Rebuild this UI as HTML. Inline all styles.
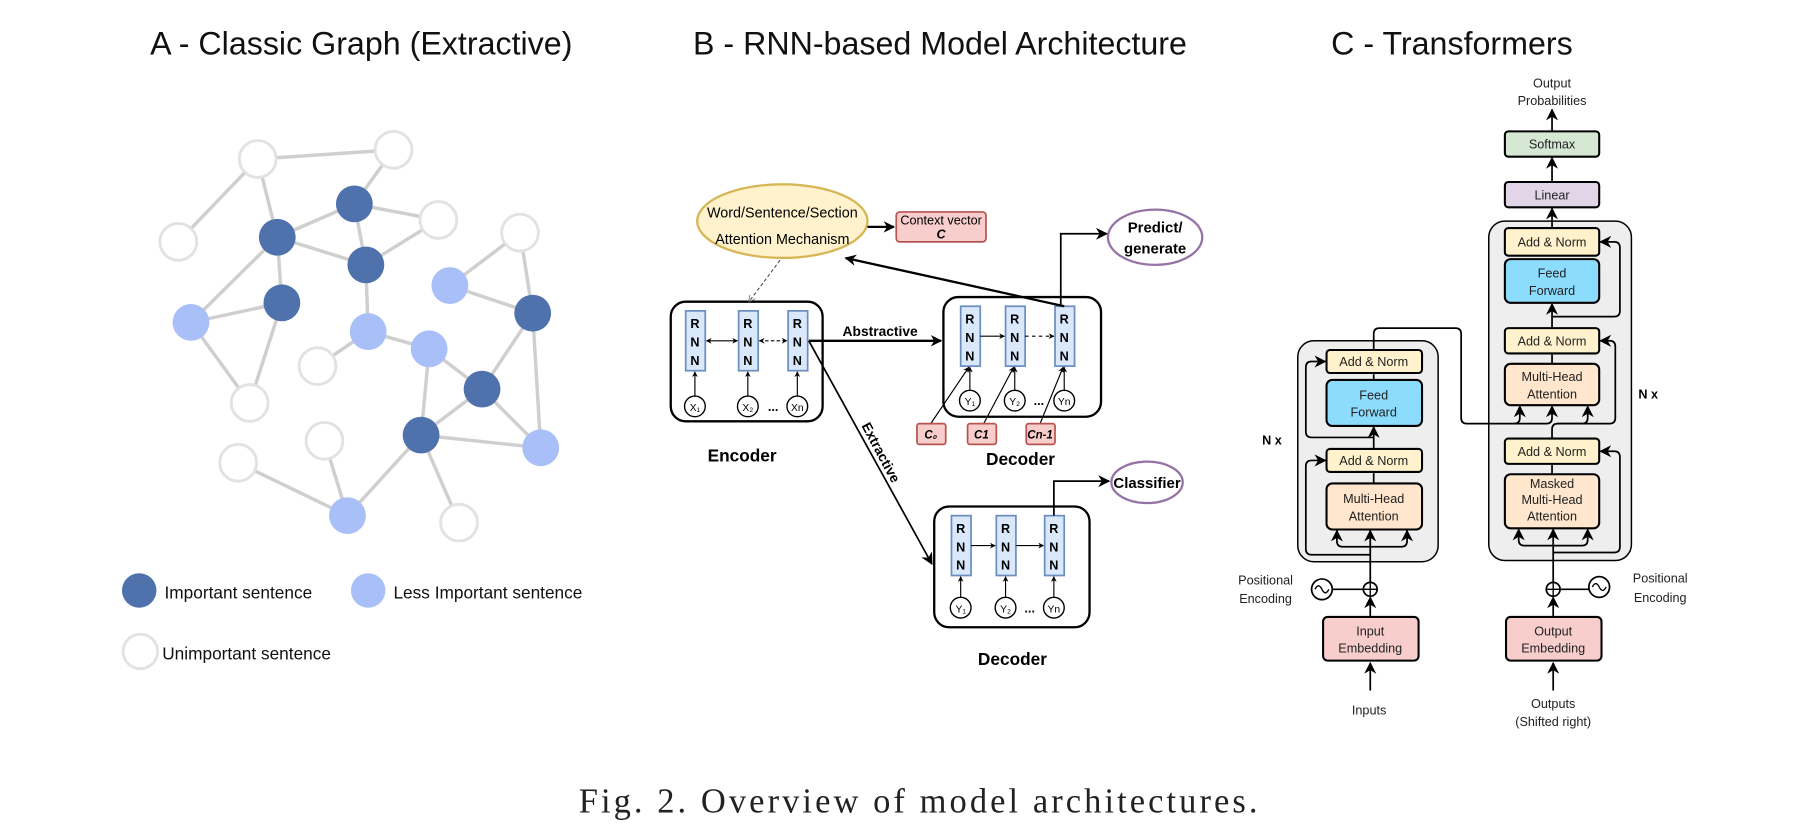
<!DOCTYPE html>
<html><head><meta charset="utf-8"><style>
html,body{margin:0;padding:0;background:#fff}
svg{display:block}
text{font-family:"Liberation Sans",sans-serif}
text.serif{font-family:"Liberation Serif",serif}
</style></head><body>
<svg width="1804" height="830" viewBox="0 0 1568 721" xmlns="http://www.w3.org/2000/svg">
<defs>
<marker id="ar" viewBox="0 0 10 10" refX="9" refY="5" markerWidth="7" markerHeight="7" orient="auto-start-reverse"><path d="M0,0 L10,5 L0,10 L3,5 z" fill="#000"/></marker>
<marker id="as" viewBox="0 0 10 10" refX="9" refY="5" markerWidth="5" markerHeight="5" orient="auto-start-reverse"><path d="M0,0 L10,5 L0,10 L3,5 z" fill="#000"/></marker>
<marker id="ad" viewBox="0 0 10 10" refX="9" refY="5" markerWidth="6" markerHeight="6" orient="auto"><path d="M0,0 L10,5 L0,10" fill="none" stroke="#555"/></marker>
</defs>
<g font-size="28" text-anchor="middle" fill="#111">
<text x="314" y="47">A - Classic Graph (Extractive)</text>
<text x="817" y="47">B - RNN-based Model Architecture</text>
<text x="1262" y="47">C - Transformers</text>
</g>
<g stroke="#cfcfcf" stroke-width="3">
<line x1="224" y1="138" x2="342" y2="130"/><line x1="224" y1="138" x2="241" y2="206"/><line x1="224" y1="138" x2="155" y2="210"/>
<line x1="342" y1="130" x2="308" y2="177"/><line x1="308" y1="177" x2="241" y2="206"/><line x1="308" y1="177" x2="381" y2="191"/>
<line x1="308" y1="177" x2="318" y2="230"/><line x1="241" y1="206" x2="318" y2="230"/><line x1="381" y1="191" x2="318" y2="230"/>
<line x1="241" y1="206" x2="166" y2="280"/><line x1="241" y1="206" x2="245" y2="263"/><line x1="245" y1="263" x2="166" y2="280"/>
<line x1="245" y1="263" x2="217" y2="350"/><line x1="166" y1="280" x2="217" y2="350"/><line x1="318" y1="230" x2="320" y2="288"/>
<line x1="320" y1="288" x2="373" y2="303"/><line x1="320" y1="288" x2="276" y2="318"/><line x1="391" y1="248" x2="463" y2="272"/>
<line x1="452" y1="202" x2="391" y2="248"/><line x1="452" y1="202" x2="463" y2="272"/><line x1="463" y1="272" x2="419" y2="338"/>
<line x1="463" y1="272" x2="470" y2="389"/><line x1="419" y1="338" x2="373" y2="303"/><line x1="419" y1="338" x2="366" y2="378"/>
<line x1="366" y1="378" x2="470" y2="389"/><line x1="373" y1="303" x2="366" y2="378"/><line x1="366" y1="378" x2="302" y2="448"/>
<line x1="366" y1="378" x2="399" y2="454"/><line x1="282" y1="383" x2="302" y2="448"/><line x1="207" y1="402" x2="302" y2="448"/>
<line x1="419" y1="338" x2="470" y2="389"/>
</g>
<g stroke="#e2e2e2" stroke-width="2.5" fill="#fff">
<circle cx="224" cy="138" r="16"/><circle cx="342" cy="130" r="16"/><circle cx="155" cy="210" r="16"/><circle cx="381" cy="191" r="16"/>
<circle cx="452" cy="202" r="16"/><circle cx="217" cy="350" r="16"/><circle cx="276" cy="318" r="16"/><circle cx="282" cy="383" r="16"/>
<circle cx="207" cy="402" r="16"/><circle cx="399" cy="454" r="16"/>
</g>
<g fill="#4f72ad">
<circle cx="308" cy="177" r="16"/><circle cx="241" cy="206" r="16"/><circle cx="318" cy="230" r="16"/><circle cx="245" cy="263" r="16"/>
<circle cx="463" cy="272" r="16"/><circle cx="419" cy="338" r="16"/><circle cx="366" cy="378" r="16"/>
</g>
<g fill="#a9bff7">
<circle cx="166" cy="280" r="16"/><circle cx="320" cy="288" r="16"/><circle cx="373" cy="303" r="16"/><circle cx="391" cy="248" r="16"/>
<circle cx="470" cy="389" r="16"/><circle cx="302" cy="448" r="16"/>
</g>
<circle cx="121" cy="513" r="15" fill="#4f72ad"/><circle cx="320" cy="513" r="15" fill="#a9bff7"/>
<circle cx="122" cy="566" r="15" fill="#fff" stroke="#e2e2e2" stroke-width="2.5"/>
<g font-size="15" fill="#111">
<text x="143" y="520">Important sentence</text><text x="342" y="520">Less Important sentence</text><text x="141" y="573">Unimportant sentence</text>
</g>

<ellipse cx="680" cy="192" rx="74" ry="32" fill="#fff2cc" stroke="#d6b656" stroke-width="2"/>
<g font-size="12.5" text-anchor="middle"><text x="680" y="189">Word/Sentence/Section</text><text x="680" y="212">Attention Mechanism</text></g>
<line x1="754" y1="197" x2="777" y2="197" stroke="#000" stroke-width="2" marker-end="url(#as)"/>
<rect x="779" y="184" width="78" height="26" rx="3" fill="#f8cecc" stroke="#b85450" stroke-width="1.5"/>
<text x="818" y="195" font-size="11" text-anchor="middle">Context vector</text>
<text x="818" y="207" font-size="11" text-anchor="middle" font-weight="bold" font-style="italic">C</text>
<ellipse cx="1004" cy="206" rx="41" ry="24" fill="#fff" stroke="#9673a6" stroke-width="2"/>
<g font-size="13" font-weight="bold" text-anchor="middle"><text x="1004" y="202">Predict/</text><text x="1004" y="220">generate</text></g>
<ellipse cx="997" cy="419" rx="31" ry="18" fill="#fff" stroke="#9673a6" stroke-width="2"/>
<text x="997" y="424" font-size="13" font-weight="bold" text-anchor="middle">Classifier</text>

<g fill="none" stroke="#000" stroke-width="2">
<rect x="583" y="262" width="132" height="104" rx="13"/>
<rect x="820" y="258" width="137" height="104" rx="13"/>
<rect x="812" y="440" width="135" height="105" rx="13"/>
</g>
<g fill="#dae8fc" stroke="#6c8ebf" stroke-width="1.5">
<rect x="596" y="270" width="17" height="52"/><rect x="642" y="270" width="17" height="52"/><rect x="685" y="270" width="17" height="52"/>
<rect x="835" y="266" width="17" height="52"/><rect x="874" y="266" width="17" height="52"/><rect x="917" y="266" width="17" height="52"/>
<rect x="827" y="448" width="17" height="52"/><rect x="866" y="448" width="17" height="52"/><rect x="908" y="448" width="17" height="52"/>
</g>
<g font-size="11" font-weight="bold" text-anchor="middle">
<text x="604" y="285">R</text><text x="604" y="301">N</text><text x="604" y="317">N</text>
<text x="650" y="285">R</text><text x="650" y="301">N</text><text x="650" y="317">N</text>
<text x="693" y="285">R</text><text x="693" y="301">N</text><text x="693" y="317">N</text>
<text x="843" y="281">R</text><text x="843" y="297">N</text><text x="843" y="313">N</text>
<text x="882" y="281">R</text><text x="882" y="297">N</text><text x="882" y="313">N</text>
<text x="925" y="281">R</text><text x="925" y="297">N</text><text x="925" y="313">N</text>
<text x="835" y="463">R</text><text x="835" y="479">N</text><text x="835" y="495">N</text>
<text x="874" y="463">R</text><text x="874" y="479">N</text><text x="874" y="495">N</text>
<text x="916" y="463">R</text><text x="916" y="479">N</text><text x="916" y="495">N</text>
</g>
<g fill="#fff" stroke="#000" stroke-width="1.2">
<circle cx="604" cy="353" r="9"/><circle cx="650" cy="353" r="9"/><circle cx="693" cy="353" r="9"/>
<circle cx="843" cy="348" r="9"/><circle cx="882" cy="348" r="9"/><circle cx="925" cy="348" r="9"/>
<circle cx="835" cy="528" r="9"/><circle cx="874" cy="528" r="9"/><circle cx="916" cy="528" r="9"/>
</g>
<g font-size="9" text-anchor="middle">
<text x="604" y="357">X₁</text><text x="650" y="357">X₂</text><text x="693" y="357">Xn</text>
<text x="843" y="352">Y₁</text><text x="882" y="352">Y₂</text><text x="925" y="352">Yn</text>
<text x="835" y="532">Y₁</text><text x="874" y="532">Y₂</text><text x="916" y="532">Yn</text>
<text x="672" y="357" font-size="11" font-weight="bold">...</text><text x="903" y="352" font-size="11" font-weight="bold">...</text><text x="895" y="532" font-size="11" font-weight="bold">...</text>
</g>
<g stroke="#000" stroke-width="1" marker-end="url(#as)">
<line x1="604" y1="344" x2="604" y2="323"/><line x1="650" y1="344" x2="650" y2="323"/><line x1="693" y1="344" x2="693" y2="323"/>
<line x1="843" y1="339" x2="843" y2="319"/><line x1="882" y1="339" x2="882" y2="319"/><line x1="925" y1="339" x2="925" y2="319"/>
<line x1="835" y1="519" x2="835" y2="501"/><line x1="874" y1="519" x2="874" y2="501"/><line x1="916" y1="519" x2="916" y2="501"/>
<line x1="852" y1="292" x2="873" y2="292"/><line x1="891" y1="292" x2="916" y2="292" stroke-dasharray="3,3"/>
<line x1="844" y1="474" x2="865" y2="474"/><line x1="883" y1="474" x2="907" y2="474"/>
<line x1="809" y1="368" x2="842" y2="319"/><line x1="855" y1="368" x2="881" y2="319"/><line x1="904" y1="368" x2="924" y2="319"/>
</g>
<g stroke="#000" stroke-width="1" marker-start="url(#as)" marker-end="url(#as)">
<line x1="614" y1="296" x2="641" y2="296"/><line x1="660" y1="296" x2="684" y2="296" stroke-dasharray="3,2"/>
</g>
<g fill="#f8cecc" stroke="#b85450" stroke-width="1.5">
<rect x="797" y="368" width="25" height="18" rx="2"/><rect x="841" y="368" width="25" height="18" rx="2"/><rect x="892" y="368" width="25" height="18" rx="2"/>
</g>
<g font-size="10" font-weight="bold" font-style="italic" text-anchor="middle">
<text x="809" y="381">C₀</text><text x="853" y="381">C1</text><text x="904" y="381">Cn-1</text>
</g>
<g font-size="15" font-weight="bold" text-anchor="middle"><text x="645" y="401">Encoder</text><text x="887" y="404">Decoder</text><text x="880" y="578">Decoder</text></g>
<line x1="703" y1="296" x2="818" y2="296" stroke="#000" stroke-width="2" marker-end="url(#as)"/>
<text x="765" y="292" font-size="12" font-weight="bold" text-anchor="middle">Abstractive</text>
<line x1="703" y1="296" x2="810" y2="490" stroke="#000" stroke-width="1.5" marker-end="url(#ar)"/>
<text transform="translate(762,395) rotate(62)" font-size="12" font-weight="bold" text-anchor="middle">Extractive</text>
<line x1="925" y1="266" x2="735" y2="224" stroke="#000" stroke-width="2" marker-end="url(#as)"/>
<polyline points="922,266 922,203 962,203" fill="none" stroke="#000" stroke-width="1.5" marker-end="url(#ar)"/>
<polyline points="916,448 916,418 964,418" fill="none" stroke="#000" stroke-width="1.5" marker-end="url(#ar)"/>
<line x1="678" y1="226" x2="651" y2="262" stroke="#555" stroke-width="1" stroke-dasharray="3,2" marker-end="url(#ad)"/>

<rect x="1128" y="296" width="122" height="192" rx="14" fill="#eee" stroke="#000" stroke-width="1.3"/>
<rect x="1294" y="192" width="124" height="295" rx="14" fill="#eee" stroke="#000" stroke-width="1.3"/>
<g stroke="#000" stroke-width="1.5" fill="none">
<line x1="1191" y1="600" x2="1191" y2="576" marker-end="url(#ar)"/>
<line x1="1191" y1="536" x2="1191" y2="519" marker-end="url(#ar)"/>
<line x1="1191" y1="506" x2="1191" y2="461" marker-end="url(#ar)"/>
<line x1="1158" y1="512" x2="1185" y2="512"/>
<path d="M1191,475 L1167,475 Q1162,475 1162,470 L1162,461" marker-end="url(#ar)"/>
<path d="M1191,475 L1218,475 Q1223,475 1223,470 L1223,461" marker-end="url(#ar)"/>
<path d="M1191,482 L1140,482 Q1135,482 1135,477 L1135,405 Q1135,400 1140,400 L1152,400" marker-end="url(#ar)"/>
<line x1="1194" y1="420" x2="1194" y2="411"/>
<line x1="1194" y1="390" x2="1194" y2="371" marker-end="url(#ar)"/>
<path d="M1194,380 L1140,380 Q1135,380 1135,375 L1135,319 Q1135,314 1140,314 L1152,314" marker-end="url(#ar)"/>
<line x1="1194" y1="330" x2="1194" y2="325"/>
<path d="M1194,304 L1194,290 Q1194,285 1199,285 L1265,285 Q1270,285 1270,290 L1270,363 Q1270,368 1275,368 L1316,368 Q1321,368 1321,363 L1321,353" marker-end="url(#ar)"/>
<path d="M1316,368 L1344,368 Q1349,368 1349,363 L1349,353" marker-end="url(#ar)"/>
<line x1="1350" y1="600" x2="1350" y2="576" marker-end="url(#ar)"/>
<line x1="1350" y1="536" x2="1350" y2="519" marker-end="url(#ar)"/>
<line x1="1350" y1="506" x2="1350" y2="460" marker-end="url(#ar)"/>
<line x1="1356" y1="512" x2="1381" y2="512"/>
<path d="M1350,474 L1325,474 Q1320,474 1320,469 L1320,460" marker-end="url(#ar)"/>
<path d="M1350,474 L1375,474 Q1380,474 1380,469 L1380,460" marker-end="url(#ar)"/>
<path d="M1350,480 L1403,480 Q1408,480 1408,475 L1408,397 Q1408,392 1403,392 L1391,392" marker-end="url(#ar)"/>
<line x1="1349" y1="412" x2="1349" y2="404"/>
<path d="M1349,381 L1349,373 Q1349,368 1354,368 L1375,368 Q1380,368 1380,363 L1380,353" marker-end="url(#ar)"/>
<path d="M1354,368 L1399,368 Q1404,368 1404,363 L1404,301 Q1404,296 1399,296 L1391,296" marker-end="url(#ar)"/>
<line x1="1349" y1="316" x2="1349" y2="308"/>
<line x1="1349" y1="285" x2="1349" y2="264" marker-end="url(#ar)"/>
<path d="M1349,275 L1403,275 Q1408,275 1408,270 L1408,215 Q1408,210 1403,210 L1391,210" marker-end="url(#ar)"/>
<line x1="1349" y1="198" x2="1349" y2="181" marker-end="url(#ar)"/>
<line x1="1349" y1="158" x2="1349" y2="137" marker-end="url(#ar)"/>
<line x1="1349" y1="114" x2="1349" y2="95" marker-end="url(#ar)"/>
</g>
<g stroke="#000" stroke-width="1.8">
<rect x="1153" y="304" width="83" height="20" rx="3" fill="#fff2cc"/>
<rect x="1153" y="330" width="83" height="40" rx="5" fill="#8cdcfe"/>
<rect x="1153" y="390" width="83" height="20" rx="3" fill="#fff2cc"/>
<rect x="1153" y="420" width="83" height="40" rx="5" fill="#ffe6cc"/>
<rect x="1150" y="536" width="83" height="38" rx="4" fill="#f8cecc"/>
<rect x="1308" y="198" width="82" height="24" rx="3" fill="#fff2cc"/>
<rect x="1308" y="225" width="82" height="38" rx="5" fill="#8cdcfe"/>
<rect x="1308" y="285" width="82" height="22" rx="3" fill="#fff2cc"/>
<rect x="1308" y="316" width="82" height="36" rx="5" fill="#ffe6cc"/>
<rect x="1308" y="381" width="82" height="22" rx="3" fill="#fff2cc"/>
<rect x="1308" y="412" width="82" height="47" rx="5" fill="#ffe6cc"/>
<rect x="1309" y="536" width="83" height="38" rx="4" fill="#f8cecc"/>
<rect x="1308" y="158" width="82" height="22" rx="3" fill="#e1d5e7"/>
<rect x="1308" y="114" width="82" height="22" rx="3" fill="#d5e8d4"/>
</g>
<g font-size="11" text-anchor="middle" fill="#222">
<text x="1194" y="318">Add &amp; Norm</text>
<text x="1194" y="347">Feed</text><text x="1194" y="362">Forward</text>
<text x="1194" y="404">Add &amp; Norm</text>
<text x="1194" y="437">Multi-Head</text><text x="1194" y="452">Attention</text>
<text x="1191" y="552">Input</text><text x="1191" y="567">Embedding</text>
<text x="1349" y="214">Add &amp; Norm</text>
<text x="1349" y="241">Feed</text><text x="1349" y="256">Forward</text>
<text x="1349" y="300">Add &amp; Norm</text>
<text x="1349" y="331">Multi-Head</text><text x="1349" y="346">Attention</text>
<text x="1349" y="396">Add &amp; Norm</text>
<text x="1349" y="424">Masked</text><text x="1349" y="438">Multi-Head</text><text x="1349" y="452">Attention</text>
<text x="1350" y="552">Output</text><text x="1350" y="567">Embedding</text>
<text x="1349" y="173">Linear</text>
<text x="1349" y="129">Softmax</text>
<text x="1349" y="76">Output</text><text x="1349" y="91">Probabilities</text>
<text x="1190" y="621">Inputs</text>
<text x="1350" y="615">Outputs</text><text x="1350" y="631">(Shifted right)</text>
<text x="1100" y="508">Positional</text><text x="1100" y="524">Encoding</text>
<text x="1443" y="506">Positional</text><text x="1443" y="523">Encoding</text>
</g>
<g font-size="11" font-weight="bold"><text x="1097" y="386">N x</text><text x="1424" y="346">N x</text></g>
<g fill="#fff" stroke="#000" stroke-width="1.5">
<circle cx="1149" cy="512" r="9"/><circle cx="1390" cy="510" r="9"/>
<circle cx="1191" cy="512" r="6"/><circle cx="1350" cy="512" r="6"/>
</g>
<g stroke="#000" stroke-width="1.2" fill="none">
<path d="M1143,512 q3,-6 6,0 q3,6 6,0"/><path d="M1384,510 q3,-6 6,0 q3,6 6,0"/>
<line x1="1185" y1="512" x2="1197" y2="512"/><line x1="1191" y1="506" x2="1191" y2="518"/>
<line x1="1344" y1="512" x2="1356" y2="512"/><line x1="1350" y1="506" x2="1350" y2="518"/>
</g>
<text class="serif" x="503" y="706" font-size="30" textLength="590" lengthAdjust="spacing" fill="#222">Fig. 2.  Overview of model architectures.</text>
</svg>
</body></html>
